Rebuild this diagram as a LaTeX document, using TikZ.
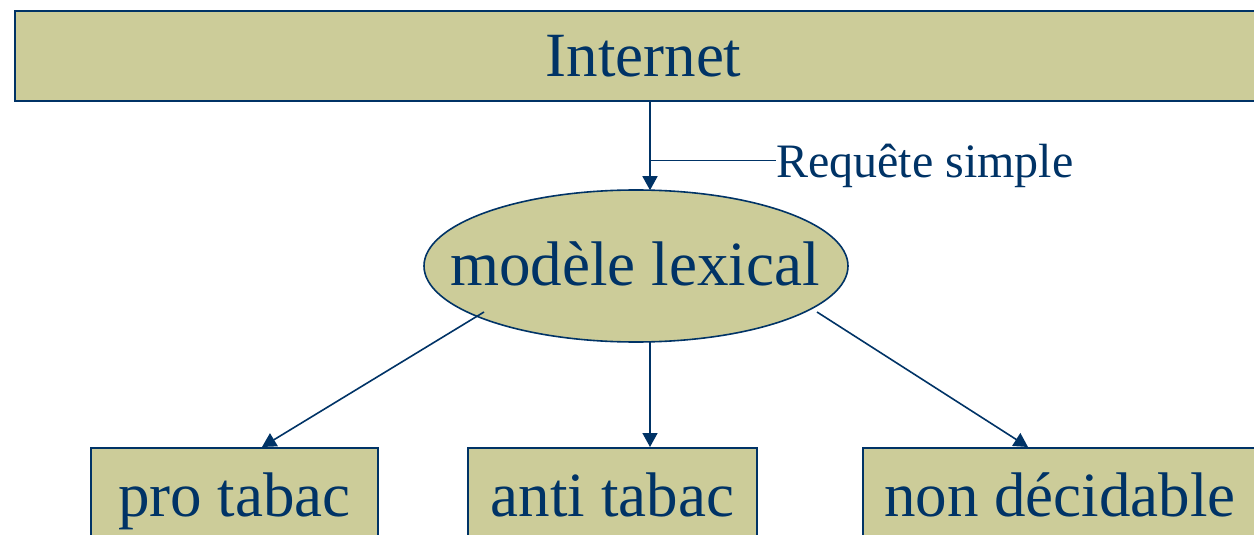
\documentclass[tikz,border=0pt]{standalone}
\usepackage{fontspec}
\setmainfont{Liberation Serif}
\usetikzlibrary{shapes.geometric,arrows.meta}
\definecolor{olive}{RGB}{204,204,153}
\definecolor{navy}{RGB}{0,51,102}
\begin{document}
\begin{tikzpicture}[x=1pt,y=-1pt,
  big/.style={font=\fontsize{63}{70}\selectfont, text=navy},
  boxnode/.style={draw=navy, line width=2pt, fill=olive, rectangle, inner sep=0pt, big},
  conn/.style={draw=navy, line width=1.6pt},
  arr/.style={conn, -{Triangle[length=14pt,width=15pt]}}]
\useasboundingbox (0,0) rectangle (1254,535);
\clip (0,0) rectangle (1254,535);
% Internet box
\node[boxnode, minimum width=1257, text height=66, text depth=24, anchor=north] (inet) at (643.5,10) {Internet};
% ellipse
\node[draw=navy, line width=1.6pt, fill=olive, ellipse, minimum width=424, minimum height=152, inner sep=0pt] (ell) at (636,266) {};
\node[big, anchor=base, inner sep=0pt] (ellt) at (635,285) {modèle lexical};
% bottom boxes
\node[boxnode, minimum width=287, text height=68, text depth=40, anchor=north] (pro) at (234.5,447) {pro tabac};
\node[boxnode, minimum width=289, text height=68, text depth=40, anchor=north] (anti) at (612.5,447) {anti tabac};
\node[boxnode, minimum width=394, text height=68, text depth=40, anchor=north west] (nond) at (862,447) {non décidable};
% label
\node[font=\fontsize{48}{53}\selectfont, text=navy, anchor=base west, inner sep=0pt] (req) at (776,177) {Requête simple};
% coordinates
\coordinate (a0) at (inet.south -| 650,0);
\coordinate (a1) at (650,190.2);
\coordinate (k) at (650,160.5);
\coordinate (b0) at (650,341.8);
\coordinate (b1) at (anti.north -| 650,0);
\coordinate (l0) at (484,312);
\coordinate (l1) at (pro.north -| 262,0);
\coordinate (r0) at (817,312);
\coordinate (r1) at (nond.north -| 1028,0);
\draw[arr] (a0) -- (a1);
\draw[conn] (k) -- (req.west |- k);
\draw[arr] (b0) -- (b1);
\draw[arr] (l0) -- (l1);
\draw[arr] (r0) -- (r1);
\end{tikzpicture}
\end{document}
